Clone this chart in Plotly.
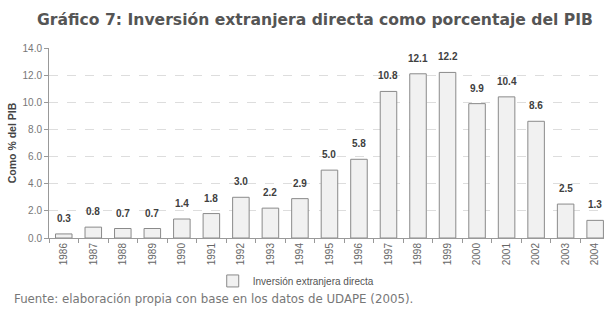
import plotly.graph_objects as go

years = [str(y) for y in range(1986, 2005)]
values = [0.3, 0.8, 0.7, 0.7, 1.4, 1.8, 3.0, 2.2, 2.9, 5.0, 5.8, 10.8, 12.1, 12.2, 9.9, 10.4, 8.6, 2.5, 1.3]
series_name = "Inversión extranjera directa"
y_ticks = [0, 2, 4, 6, 8, 10, 12, 14]
y_tick_labels = ["0.0", "2.0", "4.0", "6.0", "8.0", "10.0", "12.0", "14.0"]

fig = go.Figure()
fig.add_trace(go.Bar(
    x=years, y=values, name=series_name,
    marker=dict(color="#f1f1f1", line=dict(color="#8a8a8a", width=1)),
    width=0.56,
    showlegend=True,
))

for i, v in enumerate(values):
    fig.add_annotation(x=i, y=v, text=f"<b>{v:.1f}</b>", showarrow=False,
                       xref="x", yref="y", yanchor="bottom", yshift=8,
                       font=dict(family="Liberation Sans", size=10, color="#404040"))

fig.add_annotation(xref="paper", yref="paper", x=(12 - 49) / 555, y=-(299 - 238) / 190,
                   xanchor="left", yanchor="middle",
                   text="Fuente: elaboración propia con base en los datos de UDAPE (2005).",
                   showarrow=False, font=dict(family="DejaVu Sans", size=11.8, color="#777777"))

fig.update_layout(
    width=604, height=311,
    margin=dict(l=49, r=0, t=48, b=73, autoexpand=False),
    paper_bgcolor="white", plot_bgcolor="white",
    title=dict(text="<b>Gráfico 7: Inversión extranjera directa como porcentaje del PIB</b>",
               x=0.5215, xanchor="center", y=0.936, yanchor="middle",
               font=dict(family="DejaVu Sans", size=15.6, color="#555555")),
    font=dict(family="Liberation Sans", size=10, color="#666666"),
    xaxis=dict(type="category", range=[-0.5, 18.3], showline=True, linecolor="#999999",
               ticks="outside", tickson="boundaries", ticklen=4, tickcolor="#999999",
               tickangle=-90, tickfont=dict(size=10, color="#666666"), showgrid=False,
               automargin=False, ticklabeloverflow="allow"),
    yaxis=dict(range=[0, 14], tickvals=y_ticks, ticktext=y_tick_labels, showline=True,
               linecolor="#999999", ticks="outside", ticklen=4, tickcolor="#999999",
               showgrid=True, gridcolor="#dddddd", griddash="dash", zeroline=False,
               tickfont=dict(size=10, color="#777777"), automargin=False,
               title=dict(text="<b>Como % del PIB</b>", font=dict(size=10.5, color="#444444"), standoff=3)),
    legend=dict(orientation="h", x=0.295, xanchor="left", y=-0.226, yanchor="middle",
                font=dict(size=10, color="#555555"), itemwidth=30),
)

fig.write_html("out.html", config={"displayModeBar": False},
               post_script="document.body.style.margin='0';")
